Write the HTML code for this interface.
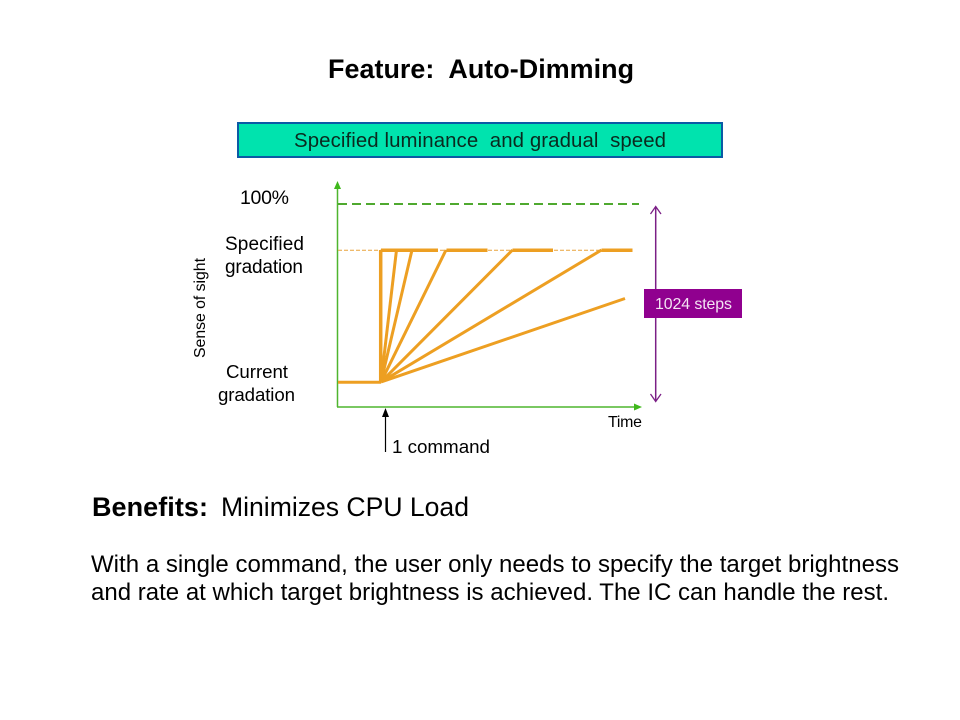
<!DOCTYPE html>
<html><head><meta charset="utf-8"><style>
html,body{margin:0;padding:0;background:#fff}
svg{display:block}
text{font-family:"Liberation Sans",Arial,sans-serif;fill:#000}
</style></head><body>
<svg width="960" height="720" viewBox="0 0 960 720" xmlns="http://www.w3.org/2000/svg">
<rect width="960" height="720" fill="#fff"/>
<text x="328" y="78" font-size="26.9" font-weight="bold" textLength="306" xml:space="preserve">Feature:  Auto-Dimming</text>
<rect x="238" y="123" width="484" height="34" fill="#00e3ae" stroke="#0b5aa5" stroke-width="2"/>
<text x="294" y="147" font-size="20.4" textLength="372" style="fill:#0a2a1f" xml:space="preserve">Specified luminance  and gradual  speed</text>

<line x1="337.5" y1="188" x2="337.5" y2="407" stroke="#4fb52e" stroke-width="1.5"/>
<polygon points="337.5,181 334,189 341,189" fill="#3fb81c"/>
<line x1="337" y1="407" x2="635" y2="407" stroke="#4fb52e" stroke-width="1.5"/>
<polygon points="642,407 634,403.5 634,410.5" fill="#3fb81c"/>
<line x1="338" y1="204" x2="639" y2="204" stroke="#4fa92f" stroke-width="2" stroke-dasharray="9 5"/>

<line x1="338" y1="250.3" x2="632" y2="250.3" stroke="#e9a33c" stroke-width="1" stroke-dasharray="4 2"/>
<g stroke="#ed9f22" fill="none" stroke-linecap="butt">
<line x1="381" y1="250.3" x2="438" y2="250.3" stroke-width="3.5"/>
<line x1="446.5" y1="250.3" x2="487.5" y2="250.3" stroke-width="3.5"/>
<line x1="512.5" y1="250.3" x2="553" y2="250.3" stroke-width="3.5"/>
<line x1="601.5" y1="250.3" x2="632.5" y2="250.3" stroke-width="3.5"/>
<line x1="338" y1="382.3" x2="381" y2="382.3" stroke-width="3"/>
<line x1="380.7" y1="382" x2="380.7" y2="250" stroke-width="3.5"/>
<line x1="381" y1="382" x2="396.5" y2="250" stroke-width="3"/>
<line x1="381" y1="382" x2="412" y2="250" stroke-width="3"/>
<line x1="381" y1="382" x2="446" y2="250" stroke-width="3"/>
<line x1="381" y1="382" x2="512.5" y2="250" stroke-width="3"/>
<line x1="381" y1="382" x2="601.5" y2="250" stroke-width="3"/>
<line x1="381" y1="382" x2="625" y2="298.5" stroke-width="3"/>
</g>

<line x1="655.7" y1="207" x2="655.7" y2="401" stroke="#7b1f86" stroke-width="1.5"/>
<polyline points="650.5,214 655.7,206.5 661,214" fill="none" stroke="#7b1f86" stroke-width="1.3"/>
<polyline points="650.5,394 655.7,401.5 661,394" fill="none" stroke="#7b1f86" stroke-width="1.3"/>
<rect x="644" y="289" width="98" height="29" fill="#90008f"/>
<text x="655" y="309" font-size="15.9" textLength="77" style="fill:#f3e3f3">1024 steps</text>

<line x1="385.5" y1="416" x2="385.5" y2="452" stroke="#000" stroke-width="1.2"/>
<polygon points="385.5,408 382,417 389,417" fill="#000"/>

<text x="240" y="204" font-size="19.5" textLength="49">100%</text>
<text x="225" y="250" font-size="19" textLength="79">Specified</text>
<text x="225" y="273" font-size="19" textLength="78">gradation</text>
<text x="226" y="378" font-size="18.7" textLength="62">Current</text>
<text x="218" y="401" font-size="18.7" textLength="77">gradation</text>
<text x="608" y="427" font-size="15.9" textLength="34">Time</text>
<text x="392" y="453" font-size="18.8" textLength="98">1 command</text>
<text transform="translate(205,358) rotate(-90)" font-size="15.9" textLength="100">Sense of sight</text>

<text x="92" y="516" font-size="27" font-weight="bold" textLength="116">Benefits:</text>
<text x="221" y="516" font-size="26.6" textLength="248">Minimizes CPU Load</text>
<text x="91" y="572" font-size="24" textLength="808">With a single command, the user only needs to specify the target brightness</text>
<text x="91" y="600" font-size="24" textLength="798">and rate at which target brightness is achieved. The IC can handle the rest.</text>
</svg>
</body></html>
